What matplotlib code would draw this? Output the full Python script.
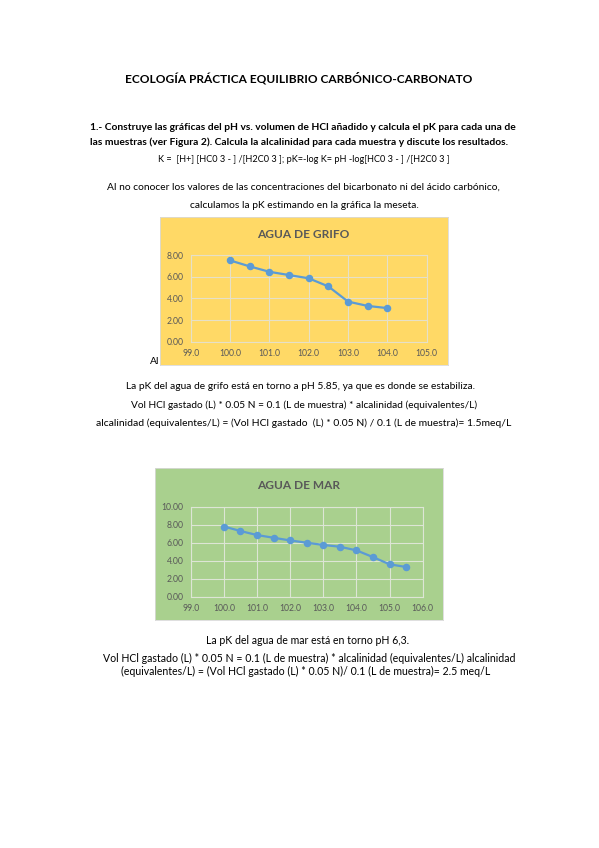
import matplotlib
matplotlib.use("Agg")
import matplotlib.pyplot as plt
from matplotlib.ticker import FormatStrFormatter, MultipleLocator

W, H = 599, 848
FONT = ["Lato", "DejaVu Sans"]

# data
grifo_vol = [100.0, 100.5, 101.0, 101.5, 102.0, 102.5, 103.0, 103.5, 104.0]
grifo_ph = [7.50, 6.95, 6.45, 6.15, 5.85, 5.10, 3.70, 3.30, 3.10]
mar_vol = [100.0, 100.5, 101.0, 101.5, 102.0, 102.5, 103.0, 103.5, 104.0, 104.5, 105.0, 105.5]
mar_ph = [7.80, 7.30, 6.85, 6.55, 6.25, 6.00, 5.75, 5.55, 5.15, 4.40, 3.60, 3.30]

fig = plt.figure(figsize=(W / 100, H / 100), dpi=100)
fig.patch.set_facecolor("white")


def ftxt(x, y, s, size=7.4, weight="normal", ha="center", **kw):
    fig.text(x / W, 1 - y / H, s, fontsize=size, fontweight=weight, ha=ha,
             va="center", family=FONT, color="black", **kw)


def box(x0, y0, x1, y1, color):
    ax = fig.add_axes([x0 / W, 1 - y1 / H, (x1 - x0) / W, (y1 - y0) / H], zorder=1)
    ax.set_facecolor(color)
    ax.set_xticks([])
    ax.set_yticks([])
    for sp in ax.spines.values():
        sp.set_color("#D9D9D9")
        sp.set_linewidth(0.6)


def chart(px0, py0, px1, py1, title, tx, ty, xs, ys, xlim, ylim, xstep, ystep, gridc):
    ax = fig.add_axes([px0 / W, 1 - py1 / H, (px1 - px0) / W, (py1 - py0) / H], zorder=2)
    ax.set_facecolor("none")
    ax.plot(xs, ys, color="#5B9BD5", linewidth=1.6, marker="o", markersize=4.4, zorder=3)
    ax.set_xlim(*xlim)
    ax.set_ylim(*ylim)
    ax.xaxis.set_major_locator(MultipleLocator(xstep))
    ax.yaxis.set_major_locator(MultipleLocator(ystep))
    ax.xaxis.set_major_formatter(FormatStrFormatter("%.1f"))
    ax.yaxis.set_major_formatter(FormatStrFormatter("%.2f"))
    ax.grid(True, color=gridc, linewidth=0.8)
    ax.set_axisbelow(True)
    for sp in ax.spines.values():
        sp.set_color(gridc)
        sp.set_linewidth(0.8)
    ax.tick_params(axis="x", length=0, labelsize=6.2, labelcolor="#595959", pad=5.5)
    ax.tick_params(axis="y", length=0, labelsize=6.2, labelcolor="#595959", pad=5)
    for lab in ax.get_xticklabels() + ax.get_yticklabels():
        lab.set_family(FONT)
    fig.text(tx / W, 1 - ty / H, title, fontsize=8.6, fontweight="bold", color="#595959",
             ha="center", va="center", family=FONT, zorder=5)
    return ax


# page text
ftxt(299, 78, "ECOLOGÍA PRÁCTICA EQUILIBRIO CARBÓNICO-CARBONATO", size=8.6, weight="bold")
ftxt(90, 128, "1.- Construye las gráficas del pH vs. volumen de HCl añadido y calcula el pK para cada una de",
     size=7.35, weight="bold", ha="left")
ftxt(90, 142, "las muestras (ver Figura 2). Calcula la alcalinidad para cada muestra y discute los resultados.",
     size=7.35, weight="bold", ha="left")
ftxt(304, 159, "K =  [H+] [HC0 3 - ] /[H2C0 3 ]; pK=-log K= pH -log[HC0 3 - ] /[H2C0 3 ]", size=6.6)
ftxt(303, 187, "Al no conocer los valores de las concentraciones del bicarbonato ni del ácido carbónico,", size=7.4)
ftxt(304, 205, "calculamos la pK estimando en la gráfica la meseta.", size=7.4)

fig.text(150 / W, 1 - 362 / H, "Al", fontsize=7.4, family=FONT, ha="left", va="center", zorder=0)
box(160, 217, 448, 365, "#FFD966")
chart(190.7, 255, 426.7, 341.7, "AGUA DE GRIFO", 303, 234,
      grifo_vol, grifo_ph, (99, 105), (0, 8), 1.0, 2.0, "#E6E0C8")

ftxt(300, 386, "La pK del agua de grifo está en torno a pH 5.85, ya que es donde se estabiliza.", size=7.35)
ftxt(304, 405, "Vol HCl gastado (L) * 0.05 N = 0.1 (L de muestra) * alcalinidad (equivalentes/L)", size=7.3)
ftxt(304, 423, "alcalinidad (equivalentes/L) = (Vol HCl gastado  (L) * 0.05 N) / 0.1 (L de muestra)= 1.5meq/L", size=7.5)

box(155, 468, 443, 620, "#A9D08E")
chart(190.7, 506.7, 422.7, 596.7, "AGUA DE MAR", 299, 486,
      mar_vol, mar_ph, (99, 106), (0, 10), 1.0, 2.0, "#DDE5D5")

ftxt(308, 640, "La pK del agua de mar está en torno pH 6,3.", size=7.6)
ftxt(309, 658, "Vol HCl gastado (L) * 0.05 N = 0.1 (L de muestra) * alcalinidad (equivalentes/L) alcalinidad", size=7.6)
ftxt(306, 671, "(equivalentes/L) = (Vol HCl gastado (L) * 0.05 N)/ 0.1 (L de muestra)= 2.5 meq/L", size=7.6)

fig.savefig("out.png", dpi=100)
